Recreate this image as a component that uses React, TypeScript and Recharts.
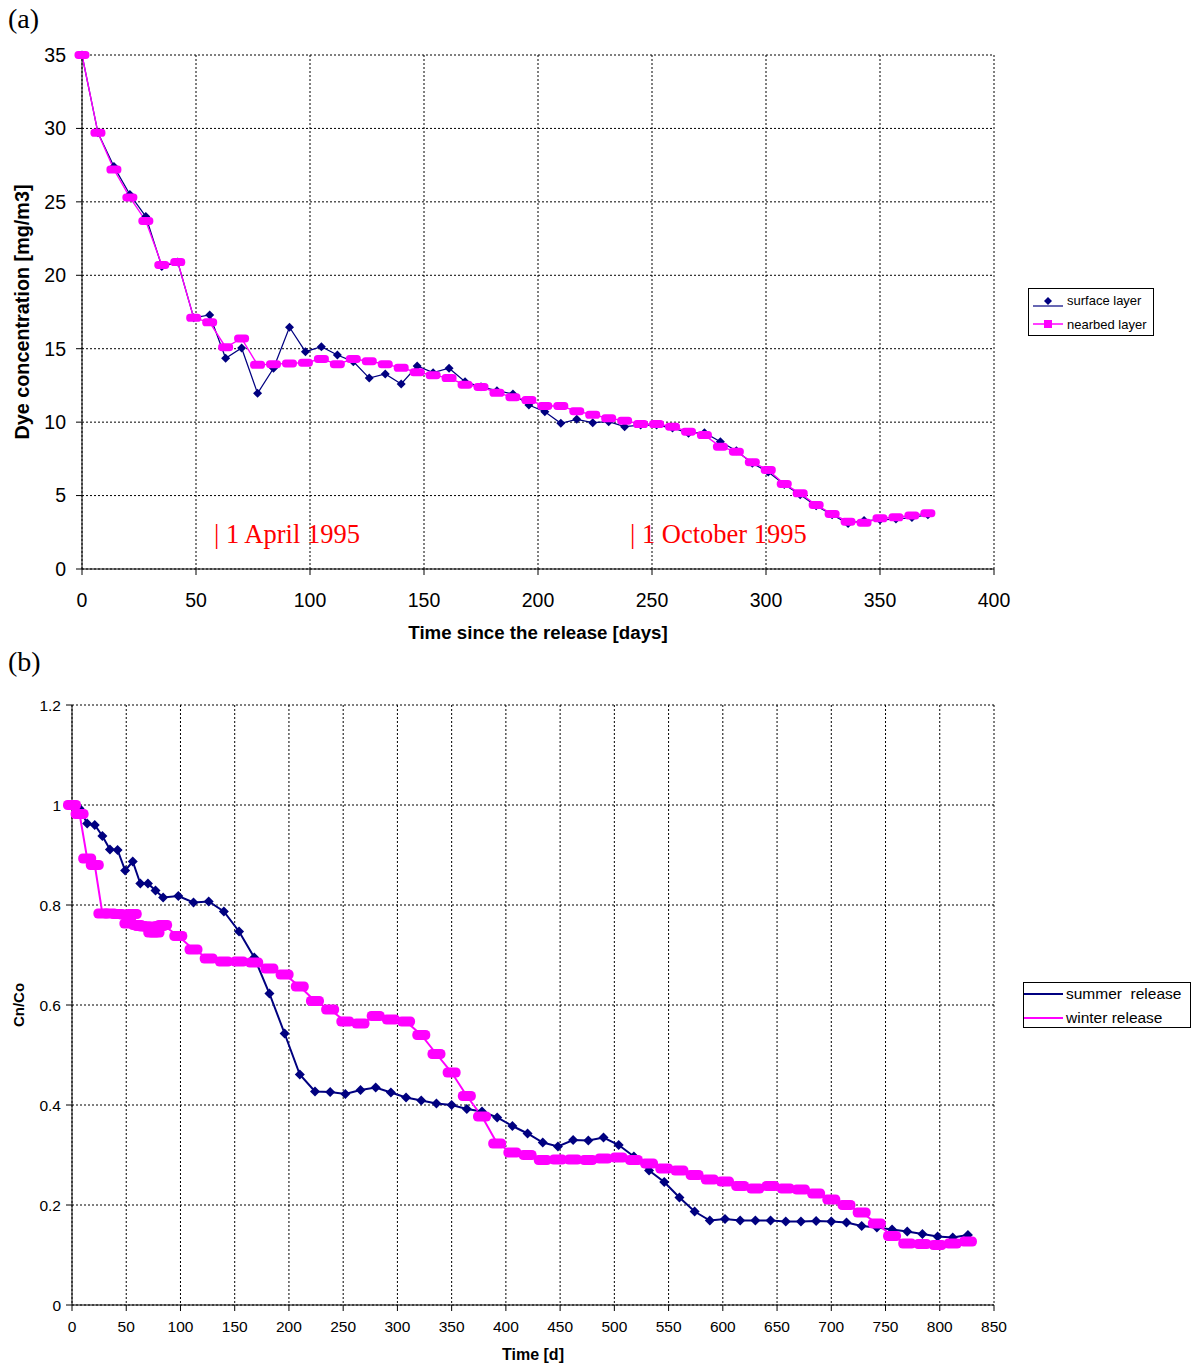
import React from 'react';
import { LineChart, Line, XAxis, YAxis, CartesianGrid, Legend } from 'recharts';

// ---------- Chart (a) data ----------
const daysA = [0, 7, 14, 21, 28, 35, 42, 49, 56, 63, 70, 77, 84, 91, 98, 105, 112, 119, 126, 133, 140, 147, 154, 161, 168, 175, 182, 189, 196, 203, 210, 217, 224, 231, 238, 245, 252, 259, 266, 273, 280, 287, 294, 301, 308, 315, 322, 329, 336, 343, 350, 357, 364, 371];
const surfaceLayer = [35, 29.7, 27.4, 25.5, 24.0, 20.6, 20.9, 17.1, 17.3, 14.35, 15.05, 11.96, 13.67, 16.46, 14.8, 15.14, 14.57, 14.12, 13.0, 13.28, 12.6, 13.82, 13.37, 13.67, 12.75, 12.41, 12.14, 11.92, 11.17, 10.71, 9.92, 10.19, 9.96, 10.03, 9.69, 9.8, 9.8, 9.6, 9.25, 9.28, 8.67, 8.05, 7.2, 6.6, 5.75, 5.05, 4.3, 3.7, 3.1, 3.3, 3.35, 3.4, 3.5, 3.7];
const nearbedLayer = [35, 29.7, 27.2, 25.3, 23.7, 20.7, 20.9, 17.1, 16.8, 15.1, 15.7, 13.9, 13.95, 14.0, 14.05, 14.3, 13.95, 14.3, 14.15, 13.95, 13.7, 13.4, 13.2, 13.0, 12.55, 12.4, 12.0, 11.7, 11.5, 11.1, 11.1, 10.75, 10.5, 10.26, 10.1, 9.87, 9.87, 9.69, 9.35, 9.12, 8.33, 7.99, 7.27, 6.74, 5.79, 5.15, 4.36, 3.75, 3.22, 3.15, 3.45, 3.52, 3.65, 3.8];
const ticksAX = [0, 50, 100, 150, 200, 250, 300, 350, 400];
const ticksAY = [0, 5, 10, 15, 20, 25, 30, 35];

// ---------- Chart (b) data ----------
const summerDays = [0, 7, 14, 21, 28, 35, 42, 49, 56, 63, 70, 77, 84, 98, 112, 126, 140, 154, 168, 182, 196, 210, 224, 238, 252, 266, 280, 294, 308, 322, 336, 350, 364, 378, 392, 406, 420, 434, 448, 462, 476, 490, 504, 518, 532, 546, 560, 574, 588, 602, 616, 630, 644, 658, 672, 686, 700, 714, 728, 742, 756, 770, 784, 798, 812, 826];
const summerRelease = [1.0, 0.993, 0.963, 0.96, 0.938, 0.911, 0.91, 0.869, 0.887, 0.843, 0.843, 0.829, 0.815, 0.818, 0.805, 0.807, 0.787, 0.747, 0.695, 0.623, 0.543, 0.461, 0.427, 0.426, 0.422, 0.43, 0.435, 0.425, 0.415, 0.409, 0.403, 0.4, 0.392, 0.387, 0.375, 0.358, 0.343, 0.325, 0.317, 0.33, 0.329, 0.335, 0.32, 0.297, 0.269, 0.246, 0.215, 0.187, 0.169, 0.172, 0.169, 0.169, 0.169, 0.167, 0.167, 0.168, 0.167, 0.165, 0.158, 0.155, 0.151, 0.147, 0.142, 0.137, 0.135, 0.14];
const winterDays = [0, 7, 14, 21, 28, 35, 42, 49, 52, 56, 60, 63, 67, 70, 74, 77, 81, 84, 98, 112, 126, 140, 154, 168, 182, 196, 210, 224, 238, 252, 266, 280, 294, 308, 322, 336, 350, 364, 378, 392, 406, 420, 434, 448, 462, 476, 490, 504, 518, 532, 546, 560, 574, 588, 602, 616, 630, 644, 658, 672, 686, 700, 714, 728, 742, 756, 770, 784, 798, 812, 826];
const winterRelease = [1.0, 0.982, 0.893, 0.88, 0.783, 0.783, 0.782, 0.781, 0.763, 0.782, 0.76, 0.758, 0.757, 0.757, 0.745, 0.745, 0.758, 0.76, 0.738, 0.711, 0.693, 0.687, 0.687, 0.685, 0.673, 0.661, 0.637, 0.608, 0.591, 0.567, 0.563, 0.578, 0.571, 0.567, 0.54, 0.502, 0.465, 0.418, 0.377, 0.323, 0.305, 0.3, 0.29, 0.291, 0.291, 0.29, 0.293, 0.295, 0.29, 0.283, 0.273, 0.269, 0.26, 0.251, 0.247, 0.238, 0.233, 0.238, 0.233, 0.231, 0.223, 0.211, 0.2, 0.185, 0.163, 0.138, 0.123, 0.122, 0.12, 0.123, 0.127];
const ticksBX = [0, 50, 100, 150, 200, 250, 300, 350, 400, 450, 500, 550, 600, 650, 700, 750, 800, 850];
const ticksBY = [0, 0.2, 0.4, 0.6, 0.8, 1.0, 1.2];

const dataA = daysA.map((d, i) => ({ day: d, surface: surfaceLayer[i], nearbed: nearbedLayer[i] }));
const dataSummer = summerDays.map((d, i) => ({ day: d, summer: summerRelease[i] }));
const dataWinter = winterDays.map((d, i) => ({ day: d, winter: winterRelease[i] }));

const NAVY = '#000080';
const MAGENTA = '#FF00FF';
const SANS = '"Liberation Sans", Arial, sans-serif';
const SERIF = '"Liberation Serif", "Times New Roman", serif';

const makeDiamond = (s: number) => (props: any) => {
  const { cx, cy, index } = props;
  if (cx == null || cy == null) return <g key={`d${index}`} />;
  return (
    <polygon
      key={`d${index}`}
      points={`${cx},${cy - s} ${cx + s},${cy} ${cx},${cy + s} ${cx - s},${cy}`}
      fill={NAVY}
    />
  );
};

const makePill = (w: number, h: number) => (props: any) => {
  const { cx, cy, index } = props;
  if (cx == null || cy == null) return <g key={`p${index}`} />;
  return <rect key={`p${index}`} x={cx - w / 2} y={cy - h / 2} width={w} height={h} rx={h / 2.2} fill={MAGENTA} />;
};

const LegendA = () => (
  <div
    style={{
      border: '1px solid #000',
      background: '#fff',
      width: 126,
      height: 48,
      boxSizing: 'border-box',
      fontFamily: SANS,
      fontSize: 13,
      color: '#000',
      position: 'relative',
    }}
  >
    <svg width={40} height={46} style={{ position: 'absolute', left: 0, top: 0 }}>
      <line x1={4} y1={17} x2={34} y2={17} stroke={NAVY} strokeWidth={1.2} />
      <polygon points="19,8 23,12 19,16 15,12" fill={NAVY} />
      <line x1={4} y1={35} x2={34} y2={35} stroke={MAGENTA} strokeWidth={1.5} />
      <rect x={15} y={31} width={8} height={8} fill={MAGENTA} />
    </svg>
    <div style={{ position: 'absolute', left: 38, top: 4, whiteSpace: 'nowrap' }}>surface layer</div>
    <div style={{ position: 'absolute', left: 38, top: 28, whiteSpace: 'nowrap' }}>nearbed layer</div>
  </div>
);

const LegendB = () => (
  <div
    style={{
      border: '1px solid #000',
      background: '#fff',
      width: 168,
      height: 46,
      boxSizing: 'border-box',
      fontFamily: SANS,
      fontSize: 15.5,
      color: '#000',
      position: 'relative',
    }}
  >
    <svg width={44} height={44} style={{ position: 'absolute', left: 0, top: 0 }}>
      <line x1={0} y1={11} x2={39} y2={11} stroke={NAVY} strokeWidth={2} />
      <line x1={0} y1={35} x2={39} y2={35} stroke={MAGENTA} strokeWidth={2} />
    </svg>
    <div style={{ position: 'absolute', left: 42, top: 2, whiteSpace: 'pre' }}>summer  release</div>
    <div style={{ position: 'absolute', left: 42, top: 26, whiteSpace: 'pre' }}>winter release</div>
  </div>
);

const abs = (left: number, top: number, extra: React.CSSProperties = {}): React.CSSProperties => ({
  position: 'absolute',
  left,
  top,
  whiteSpace: 'nowrap',
  ...extra,
});

export default function App() {
  return (
    <div style={{ position: 'absolute', left: 0, top: 0, width: 1196, height: 1365, background: '#fff' }}>
      {/* Chart (a) */}
      <div style={abs(0, 0)}>
        <LineChart width={1196} height={620} data={dataA} margin={{ top: 55, right: 202, left: 22, bottom: 21 }}>
          <CartesianGrid stroke="#000" strokeDasharray="2 2" strokeWidth={1} />
          <XAxis
            dataKey="day"
            type="number"
            domain={[0, 400]}
            ticks={ticksAX}
            interval={0}
            height={30}
            tickSize={6}
            tickMargin={18}
            axisLine={{ stroke: '#000' }}
            tickLine={{ stroke: '#000' }}
            tick={{ fill: '#000', fontSize: 19.5, fontFamily: SANS }}
          />
          <YAxis
            type="number"
            domain={[0, 35]}
            ticks={ticksAY}
            interval={0}
            width={60}
            tickSize={6}
            tickMargin={10}
            axisLine={{ stroke: '#000' }}
            tickLine={{ stroke: '#000' }}
            tick={{ fill: '#000', fontSize: 19.5, fontFamily: SANS }}
          />
          <Legend
            layout="vertical"
            align="center"
            verticalAlign="middle"
            wrapperStyle={{ position: 'absolute', left: 1028, top: 288, width: 126 }}
            content={() => <LegendA />}
          />
          <Line
            dataKey="surface"
            name="surface layer"
            stroke={NAVY}
            strokeWidth={1.25}
            dot={makeDiamond(4.5)}
            isAnimationActive={false}
          />
          <Line
            dataKey="nearbed"
            name="nearbed layer"
            stroke={MAGENTA}
            strokeWidth={1.4}
            dot={makePill(15, 8)}
            isAnimationActive={false}
          />
        </LineChart>
      </div>

      {/* Chart (b) */}
      <div style={abs(0, 650)}>
        <LineChart width={1196} height={715} margin={{ top: 55, right: 202, left: 12, bottom: 30 }}>
          <CartesianGrid stroke="#000" strokeDasharray="2 2" strokeWidth={1} />
          <XAxis
            dataKey="day"
            type="number"
            domain={[0, 850]}
            ticks={ticksBX}
            interval={0}
            height={30}
            tickSize={6}
            tickMargin={10}
            axisLine={{ stroke: '#000' }}
            tickLine={{ stroke: '#000' }}
            tick={{ fill: '#000', fontSize: 15.5, fontFamily: SANS }}
            allowDuplicatedCategory={false}
          />
          <YAxis
            type="number"
            domain={[0, 1.2]}
            ticks={ticksBY}
            interval={0}
            width={60}
            tickSize={6}
            tickMargin={5}
            axisLine={{ stroke: '#000' }}
            tickLine={{ stroke: '#000' }}
            tickFormatter={(v: number) => (v === 0 ? '0' : v === 1 ? '1' : String(v))}
            tick={{ fill: '#000', fontSize: 15.5, fontFamily: SANS }}
          />
          <Legend
            layout="vertical"
            align="center"
            verticalAlign="middle"
            wrapperStyle={{ position: 'absolute', left: 1023, top: 332, width: 168 }}
            content={() => <LegendB />}
          />
          <Line
            data={dataSummer}
            dataKey="summer"
            name="summer release"
            stroke={NAVY}
            strokeWidth={2}
            dot={makeDiamond(5)}
            isAnimationActive={false}
          />
          <Line
            data={dataWinter}
            dataKey="winter"
            name="winter release"
            stroke={MAGENTA}
            strokeWidth={2}
            dot={makePill(18, 10)}
            isAnimationActive={false}
          />
        </LineChart>
      </div>

      {/* Panel labels */}
      <div style={abs(8, 3, { fontFamily: SERIF, fontSize: 28, lineHeight: '32px', color: '#000' })}>(a)</div>
      <div style={abs(8, 646, { fontFamily: SERIF, fontSize: 28, lineHeight: '32px', color: '#000' })}>(b)</div>

      {/* Axis titles (a) */}
      <div
        style={abs(22, 312, {
          fontFamily: SANS,
          fontWeight: 'bold',
          fontSize: 19.8,
          transform: 'translate(-50%, -50%) rotate(-90deg)',
          color: '#000',
        })}
      >
        Dye concentration [mg/m3]
      </div>
      <div style={abs(538, 633, { fontFamily: SANS, fontWeight: 'bold', fontSize: 18.7, transform: 'translate(-50%, -50%)', color: '#000' })}>
        Time since the release [days]
      </div>

      {/* Date annotations (a) */}
      <div style={abs(214, 521, { fontFamily: SERIF, fontSize: 26.5, lineHeight: '26px', color: '#FF0000' })}>| 1 April 1995</div>
      <div style={abs(630, 521, { fontFamily: SERIF, fontSize: 26.5, lineHeight: '26px', color: '#FF0000' })}>| 1 October 1995</div>

      {/* Axis titles (b) */}
      <div
        style={abs(18, 1005, {
          fontFamily: SANS,
          fontWeight: 'bold',
          fontSize: 15,
          transform: 'translate(-50%, -50%) rotate(-90deg)',
          color: '#000',
        })}
      >
        Cn/Co
      </div>
      <div style={abs(533, 1355, { fontFamily: SANS, fontWeight: 'bold', fontSize: 16, transform: 'translate(-50%, -50%)', color: '#000' })}>
        Time [d]
      </div>
    </div>
  );
}
